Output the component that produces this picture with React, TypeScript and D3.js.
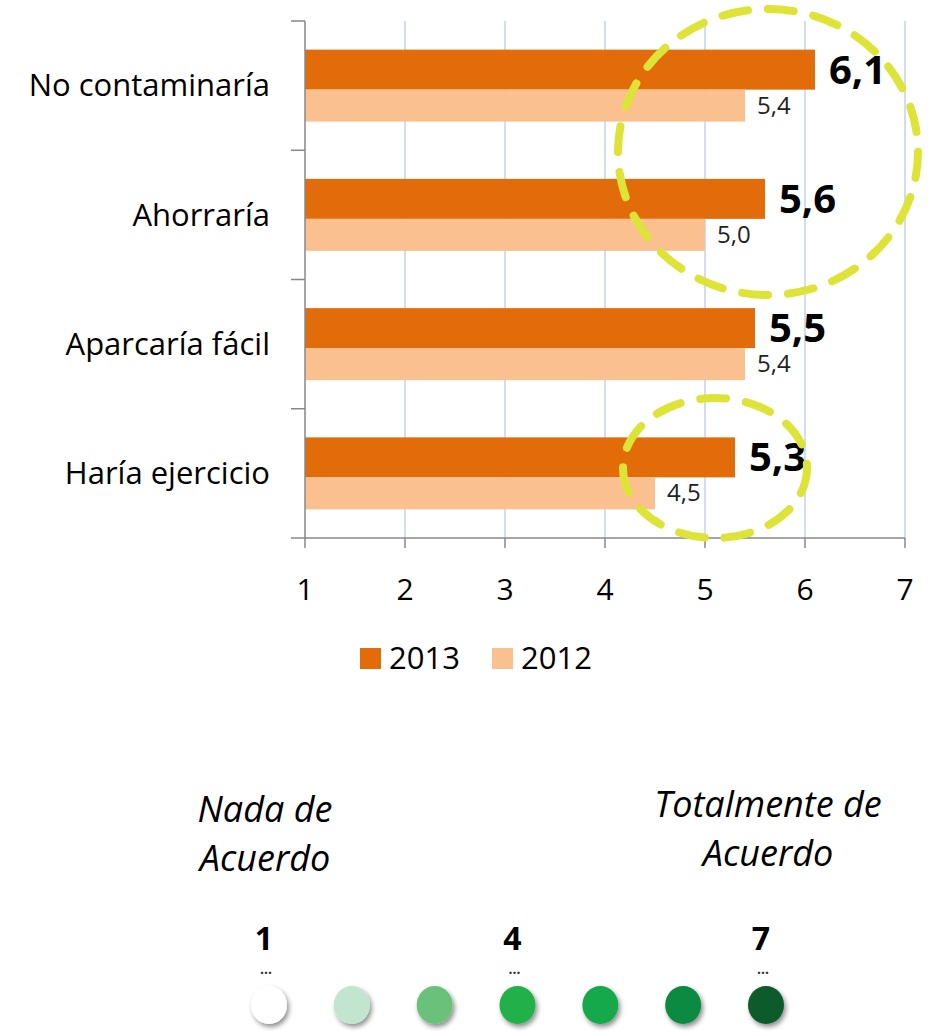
import React, { useEffect, useRef } from 'react';
import * as d3 from 'd3';

const categories = ['No contaminaría', 'Ahorraría', 'Aparcaría fácil', 'Haría ejercicio'];
const values2013 = [6.1, 5.6, 5.5, 5.3];
const values2012 = [5.4, 5.0, 5.4, 4.5];
const xTicks = [1, 2, 3, 4, 5, 6, 7];
const seriesNames = ['2013', '2012'];
const scaleSteps = [1, 2, 3, 4, 5, 6, 7];
const scaleColors = ['#ffffff', '#c2e5cf', '#6bc27a', '#22b04b', '#12a94b', '#0f8a43', '#0b5a2c'];
const scaleLabels = [1, 4, 7];

const FONT = "'Open Sans', sans-serif";

const App = () => {
  const svgRef = useRef<SVGSVGElement>(null);

  useEffect(() => {
    const svg = d3.select(svgRef.current);
    svg.selectAll('*').remove();

    const x = d3.scaleLinear().domain([1, 7]).range([305, 905]);
    const y = d3.scaleBand().domain(categories).range([21, 538]);

    const defs = svg.append('defs');
    const f = defs.append('filter').attr('id', 'shadow').attr('x', '-50%').attr('y', '-50%').attr('width', '200%').attr('height', '200%');
    f.append('feDropShadow').attr('dx', 2).attr('dy', 3).attr('stdDeviation', 2.5).attr('flood-color', '#000').attr('flood-opacity', 0.45);

    // gridlines
    svg.append('g').selectAll('line').data(xTicks.slice(1)).join('line')
      .attr('x1', d => x(d)).attr('x2', d => x(d))
      .attr('y1', 21).attr('y2', 538)
      .attr('stroke', '#b9cbe8').attr('stroke-width', 1.3);

    // bars
    const bandG = svg.append('g').selectAll('g').data(categories).join('g')
      .attr('transform', d => `translate(0,${(y(d) as number) + y.bandwidth() / 2})`);

    bandG.append('rect')
      .attr('x', x(1)).attr('y', -36)
      .attr('width', (_, i) => x(values2013[i]) - x(1)).attr('height', 40)
      .attr('fill', '#e36c0a');
    bandG.append('rect')
      .attr('x', x(1)).attr('y', 4)
      .attr('width', (_, i) => x(values2012[i]) - x(1)).attr('height', 32)
      .attr('fill', '#fac090');

    const fmt = (v: number) => v.toFixed(1).replace('.', ',');

    bandG.append('text')
      .attr('x', (_, i) => x(values2013[i]) + 14).attr('y', -2)
      .text((_, i) => fmt(values2013[i]))
      .style('font-family', FONT).style('font-size', '40px').style('font-weight', 'bold').attr('fill', '#000');
    bandG.append('text')
      .attr('x', (_, i) => x(values2012[i]) + 12).attr('y', 28)
      .text((_, i) => fmt(values2012[i]))
      .style('font-family', FONT).style('font-size', '24px').attr('fill', '#222');

    // category labels
    bandG.append('text')
      .attr('x', 270).attr('y', 0).attr('dy', '0.35em')
      .attr('text-anchor', 'end')
      .text(d => d)
      .style('font-family', FONT).style('font-size', '31px').attr('fill', '#000');

    // axes
    const axisColor = '#878787';
    svg.append('line').attr('x1', 305).attr('x2', 305).attr('y1', 21).attr('y2', 538)
      .attr('stroke', axisColor).attr('stroke-width', 1.5);
    svg.append('line').attr('x1', 305).attr('x2', 905).attr('y1', 538).attr('y2', 538)
      .attr('stroke', axisColor).attr('stroke-width', 1.5);
    const yTickPos = [...categories.map(c => y(c) as number), 538];
    svg.append('g').selectAll('line').data(yTickPos).join('line')
      .attr('x1', 291).attr('x2', 305).attr('y1', d => d).attr('y2', d => d)
      .attr('stroke', axisColor).attr('stroke-width', 1.5);
    svg.append('g').selectAll('line').data(xTicks).join('line')
      .attr('x1', d => x(d)).attr('x2', d => x(d)).attr('y1', 538).attr('y2', 548)
      .attr('stroke', axisColor).attr('stroke-width', 1.5);
    svg.append('g').selectAll('text').data(xTicks).join('text')
      .attr('x', d => x(d)).attr('y', 600).attr('text-anchor', 'middle')
      .text(d => d)
      .style('font-family', FONT).style('font-size', '30px').attr('fill', '#000');

    // legend
    const legend = svg.append('g').attr('transform', 'translate(360,648)');
    const legendX = [0, 132];
    seriesNames.forEach((name, i) => {
      legend.append('rect').attr('x', legendX[i]).attr('y', 0).attr('width', 21).attr('height', 21)
        .attr('fill', i === 0 ? '#e36c0a' : '#fac090');
      legend.append('text').attr('x', legendX[i] + 29).attr('y', 21).text(name)
        .style('font-family', FONT).style('font-size', '31px').attr('fill', '#000');
    });

    // highlight ellipses
    const dash = { stroke: '#dde437', width: 8, dash: '26,20' };
    svg.append('ellipse')
      .attr('cx', x(5.63)).attr('cy', 152).attr('rx', 150).attr('ry', 143)
      .attr('fill', 'none').attr('stroke', dash.stroke).attr('stroke-width', dash.width)
      .attr('stroke-dasharray', dash.dash).attr('stroke-linecap', 'round');
    svg.append('ellipse')
      .attr('cx', x(5.1)).attr('cy', 468).attr('rx', 92).attr('ry', 70)
      .attr('fill', 'none').attr('stroke', dash.stroke).attr('stroke-width', dash.width)
      .attr('stroke-dasharray', dash.dash).attr('stroke-linecap', 'round');

    // agreement scale
    const s = d3.scalePoint<number>().domain(scaleSteps).range([269, 766]);
    const italic = (txt: string, cx: number, cy: number) =>
      svg.append('text').attr('x', cx).attr('y', cy).attr('text-anchor', 'middle').text(txt)
        .style('font-family', FONT).style('font-size', '36px').style('font-style', 'italic').attr('fill', '#000');
    italic('Nada de', 265, 822);
    italic('Acuerdo', 265, 871);
    italic('Totalmente de', 768, 817);
    italic('Acuerdo', 768, 866);

    svg.append('g').selectAll('text').data(scaleLabels).join('text')
      .attr('x', d => (s(d) as number) - 5).attr('y', 950).attr('text-anchor', 'middle')
      .text(d => d)
      .style('font-family', FONT).style('font-size', '32px').style('font-weight', 'bold').attr('fill', '#000');
    svg.append('g').selectAll('text').data(scaleLabels).join('text')
      .attr('x', d => (s(d) as number) - 3).attr('y', 974).attr('text-anchor', 'middle')
      .text('…')
      .style('font-family', FONT).style('font-size', '14px').style('font-weight', 'bold').attr('fill', '#333');

    svg.append('g').selectAll('ellipse').data(scaleSteps).join('ellipse')
      .attr('cx', d => s(d) as number).attr('cy', 1005).attr('rx', 18).attr('ry', 19)
      .attr('fill', (_, i) => scaleColors[i])
      .attr('filter', 'url(#shadow)');
  }, []);

  return (
    <svg ref={svgRef} width={932} height={1031}
      style={{ position: 'absolute', left: 0, top: 0, background: '#fff' }} />
  );
};

export default App;
